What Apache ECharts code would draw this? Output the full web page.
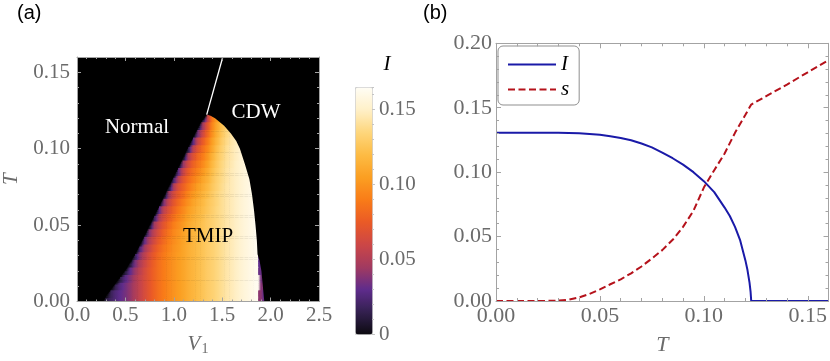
<!DOCTYPE html>
<html><head><meta charset="utf-8">
<script src="https://cdn.jsdelivr.net/npm/echarts@6/dist/echarts.min.js"></script>
<style>html,body{margin:0;padding:0;background:#fff}#c{width:830px;height:361px}</style>
</head><body><div id="c"></div>
<script>
// ================= DATA =================
// Panel (a): order parameter I on a (V1, T) grid.  Row centres in T,
// first V1 column of each row, then I values every 0.05 in V1.
const heatRowT = [0,0.005,0.01,0.015,0.02,0.025,0.03,0.035,0.04,0.045,0.05,0.055,0.06,0.065,0.07,0.075,0.08,0.085,0.09,0.095,0.10,0.105,0.11,0.115,0.12];
const heatRowV0 = [0.25,0.30,0.35,0.40,0.45,0.50,0.55,0.60,0.65,0.70,0.75,0.75,0.80,0.85,0.90,0.95,0.95,1.00,1.05,1.10,1.10,1.15,1.20,1.25,1.30];
const heatRowI = [
 [0.006,0.012,0.019,0.025,0.030,0.035,0.041,0.049,0.057,0.065,0.072,0.079,0.085,0.090,0.095,0.100,0.104,0.108,0.113,0.117,0.121,0.125,0.129,0.132,0.136,0.140,0.144,0.147,0.150,0.154,0.157,0.160,0.163,0.040,0.025],
 [0.006,0.017,0.025,0.030,0.035,0.041,0.049,0.057,0.065,0.072,0.079,0.085,0.090,0.095,0.100,0.104,0.108,0.113,0.117,0.121,0.125,0.129,0.132,0.136,0.140,0.144,0.147,0.150,0.154,0.157,0.160,0.163,0.040,0.022],
 [0.005,0.017,0.027,0.034,0.041,0.049,0.057,0.065,0.072,0.079,0.085,0.090,0.095,0.100,0.104,0.108,0.113,0.117,0.121,0.125,0.129,0.132,0.136,0.140,0.144,0.147,0.150,0.154,0.157,0.160,0.163,0.038],
 [0.005,0.015,0.028,0.038,0.048,0.057,0.065,0.072,0.079,0.085,0.090,0.095,0.100,0.104,0.108,0.113,0.117,0.121,0.125,0.129,0.132,0.136,0.140,0.144,0.147,0.150,0.154,0.157,0.160,0.163,0.035],
 [0.005,0.012,0.030,0.043,0.054,0.064,0.072,0.079,0.085,0.090,0.095,0.100,0.104,0.108,0.113,0.117,0.121,0.125,0.129,0.132,0.136,0.140,0.144,0.147,0.150,0.154,0.157,0.160,0.163,0.032],
 [0.005,0.010,0.035,0.049,0.060,0.070,0.078,0.085,0.090,0.095,0.100,0.104,0.108,0.113,0.117,0.121,0.125,0.129,0.132,0.136,0.140,0.144,0.147,0.150,0.154,0.157,0.160,0.163,0.030],
 [0.005,0.017,0.040,0.054,0.066,0.075,0.083,0.089,0.095,0.100,0.104,0.108,0.113,0.117,0.121,0.125,0.129,0.132,0.136,0.140,0.144,0.147,0.150,0.154,0.157,0.160,0.163,0.028],
 [0.005,0.025,0.046,0.059,0.071,0.080,0.087,0.093,0.099,0.103,0.108,0.113,0.117,0.121,0.125,0.129,0.132,0.136,0.140,0.144,0.147,0.150,0.154,0.157,0.160,0.163],
 [0.005,0.032,0.051,0.064,0.075,0.083,0.091,0.097,0.102,0.107,0.112,0.117,0.121,0.125,0.129,0.132,0.136,0.140,0.144,0.147,0.150,0.154,0.157,0.160,0.163],
 [0.005,0.039,0.056,0.068,0.079,0.087,0.095,0.100,0.106,0.111,0.116,0.120,0.125,0.129,0.132,0.136,0.140,0.144,0.147,0.150,0.154,0.157,0.160,0.163],
 [0.006,0.045,0.061,0.072,0.082,0.091,0.097,0.103,0.110,0.115,0.119,0.124,0.128,0.132,0.136,0.140,0.144,0.147,0.150,0.154,0.157,0.160,0.163],
 [0.004,0.019,0.050,0.065,0.076,0.085,0.093,0.100,0.107,0.113,0.118,0.123,0.128,0.132,0.136,0.140,0.144,0.147,0.150,0.154,0.157,0.160,0.163],
 [0.004,0.031,0.056,0.068,0.079,0.088,0.096,0.104,0.110,0.116,0.121,0.126,0.131,0.136,0.140,0.144,0.147,0.150,0.154,0.157,0.160,0.163],
 [0.004,0.038,0.059,0.072,0.082,0.091,0.099,0.107,0.113,0.119,0.125,0.130,0.135,0.140,0.144,0.147,0.150,0.154,0.157,0.160,0.163],
 [0.005,0.045,0.064,0.075,0.084,0.094,0.102,0.109,0.116,0.122,0.129,0.135,0.140,0.144,0.147,0.150,0.154,0.157,0.160],
 [0.010,0.050,0.068,0.078,0.088,0.097,0.105,0.112,0.119,0.127,0.133,0.139,0.144,0.147,0.150,0.154,0.157,0.160],
 [0.004,0.024,0.054,0.071,0.082,0.091,0.099,0.108,0.115,0.125,0.132,0.138,0.143,0.147,0.150,0.154,0.157,0.160],
 [0.004,0.032,0.059,0.075,0.085,0.093,0.102,0.111,0.122,0.130,0.137,0.143,0.147,0.150,0.154,0.157],
 [0.005,0.043,0.064,0.078,0.087,0.096,0.106,0.119,0.128,0.136,0.142,0.146,0.150,0.154,0.157],
 [0.006,0.049,0.068,0.081,0.090,0.101,0.115,0.126,0.134,0.141,0.145,0.149,0.154,0.157],
 [0.004,0.014,0.054,0.071,0.084,0.095,0.110,0.123,0.132,0.140,0.145,0.149,0.154],
 [0.004,0.028,0.059,0.075,0.089,0.106,0.119,0.130,0.138,0.144,0.148],
 [0.004,0.036,0.062,0.081,0.100,0.115,0.127,0.136,0.143],
 [0.006,0.045,0.072,0.095,0.111,0.124,0.134],
 [0.012,0.057,0.090,0.106,0.120]
];
// Phase boundaries (V1, T)
const leftEdgeV = [0.27,0.307,0.409,0.511,0.612,0.697,0.782,0.850,0.917,0.985,1.053,1.120,1.171,1.222,1.273,1.34];
const leftEdgeT = [0,0.0041,0.0128,0.0214,0.0323,0.0431,0.0539,0.0625,0.0712,0.0799,0.0885,0.0972,0.1037,0.1102,0.1167,0.1223];
const rightEdgeV = [1.935,1.92,1.905,1.885,1.865,1.858,1.844,1.828,1.808,1.781,1.734,1.683,1.645,1.59,1.52,1.426,1.38,1.34];
const rightEdgeT = [0,0.01,0.02,0.027,0.031,0.04,0.05,0.06,0.07,0.08,0.09,0.10,0.105,0.11,0.115,0.1199,0.1215,0.1223];
const transitionV = [1.34, 1.506];
const transitionT = [0.1223, 0.16];

// Panel (b): I(T) and s(T)
const orderT = [0,0.01,0.02,0.03,0.04,0.05,0.055,0.06,0.065,0.07,0.075,0.08,0.085,0.09,0.095,0.10,0.105,0.11,0.1125,0.115,0.1175,0.12,0.121,0.122,0.1225,0.1228,0.13,0.14,0.15,0.16];
const orderI = [0.1305,0.1305,0.1305,0.1305,0.1302,0.129,0.1278,0.1265,0.1248,0.1222,0.1192,0.1152,0.1108,0.1058,0.1,0.093,0.0845,0.0725,0.066,0.0575,0.047,0.0315,0.024,0.014,0.007,0,0,0,0,0];
const entropyT = [0,0.01,0.02,0.025,0.03,0.035,0.04,0.045,0.05,0.055,0.06,0.065,0.07,0.075,0.08,0.085,0.09,0.095,0.10,0.105,0.11,0.115,0.12,0.1228,0.13,0.14,0.15,0.16];
const entropyS = [0,0,0,0.0001,0.0003,0.001,0.0028,0.0055,0.009,0.013,0.0168,0.0215,0.0268,0.033,0.0395,0.0475,0.0575,0.070,0.088,0.1015,0.1145,0.1305,0.1445,0.1525,0.159,0.168,0.1775,0.187];

const colorbarTicks = [0, 0.05, 0.10, 0.15];
const seriesNames = ['I', 's'];

// ================= STYLE / LAYOUT =================
const SERIF = "'Liberation Serif','DejaVu Serif',serif";
const FRAME = '#a3a3a3';
const LABEL = '#6b6b6b';
const CMAP = ['#0c0a10','#33204f','#5f2c8c','#a23a60','#cc4646','#ea5a26','#f97c18','#fb9f22','#fdbb44','#fed67c','#fff0c8','#fffdf5'];
const I_MAX = 0.165;
const V_MIN = 0, V_MAX = 2.5, T_MIN = 0, T_MAX = 0.16;
const CELL_DV = 0.05, CELL_DT = 0.005, SUB = 4;

function hexRgb(h) { return [parseInt(h.slice(1,3),16), parseInt(h.slice(3,5),16), parseInt(h.slice(5,7),16)]; }
const CMAP_RGB = CMAP.map(hexRgb);
function cmap(v) {
  const n = CMAP_RGB.length - 1;
  const x = Math.max(0, Math.min(1, v / I_MAX)) * n;
  const i = Math.min(n - 1, Math.floor(x)), f = x - i;
  const a = CMAP_RGB[i], b = CMAP_RGB[i + 1];
  return 'rgb(' + a.map((c, m) => Math.round(c + (b[m] - c) * f)).join(',') + ')';
}
// position of the Normal/TMIP boundary at a given T (along the drawn boundary polyline)
function leftEdgeAt(T) {
  if (T <= leftEdgeT[0]) return leftEdgeV[0];
  for (let i = 1; i < leftEdgeT.length; i++) {
    if (T <= leftEdgeT[i]) return leftEdgeV[i - 1] + (leftEdgeV[i] - leftEdgeV[i - 1]) * (T - leftEdgeT[i - 1]) / (leftEdgeT[i] - leftEdgeT[i - 1]);
  }
  return leftEdgeV[leftEdgeV.length - 1];
}
// shading knots of a row: value 0 on the boundary, then the cell values
const knotCache = {};
function rowKnots(j, s) {
  const key = j * SUB + s;
  if (knotCache[key]) return knotCache[key];
  const Ts = heatRowT[j] - CELL_DT / 2 + (s + 0.5) * CELL_DT / SUB;
  const L = leftEdgeAt(Ts);
  const row = heatRowI[j], v0 = heatRowV0[j];
  const knots = [[L, 0]];
  let last = 0;
  row.forEach((val, m) => {
    const c = v0 + m * CELL_DV;
    if (c <= L + 0.002) return;
    if (knots.length > 1 && Math.abs(val - last) > 0.06) {
      const mid = c - CELL_DV / 2;
      knots.push([mid, last], [mid, val]);
    }
    knots.push([c, val]); last = val;
  });
  return (knotCache[key] = knots);
}
function evalKnots(knots, x) {
  if (x <= knots[0][0]) return knots[0][1];
  for (let i = 1; i < knots.length; i++) {
    if (x <= knots[i][0]) {
      const a = knots[i - 1], b = knots[i], d = b[0] - a[0];
      return d <= 0 ? b[1] : a[1] + (b[1] - a[1]) * (x - a[0]) / d;
    }
  }
  return knots[knots.length - 1][1];
}

const cellData = [];
heatRowI.forEach((row, j) => row.forEach((val, k) => {
  cellData.push([+(heatRowV0[j] + k * CELL_DV).toFixed(3), heatRowT[j], val, j, k]);
}));
const normalPolyV = [V_MIN].concat(leftEdgeV, [transitionV[1], V_MIN]);
const normalPolyT = [T_MIN].concat(leftEdgeT, [transitionT[1], T_MAX]);
const cdwPolyV = [V_MAX].concat(rightEdgeV, [transitionV[1], V_MAX]);
const cdwPolyT = [T_MIN].concat(rightEdgeT, [transitionT[1], T_MAX]);
const regions = [[normalPolyV, normalPolyT], [cdwPolyV, cdwPolyT]];

function axisSet(kind, gi, min, max, major, minor, fmt, fs, margin, majLen, minLen, extra) {
  const sA = kind === 'x' ? 'bottom' : 'left', sB = kind === 'x' ? 'top' : 'right';
  const base = {type: 'value', gridIndex: gi, min: min, max: max, z: 6, splitLine: {show: false}, silent: true};
  const tick = (len) => ({show: true, inside: true, length: len, lineStyle: {color: FRAME, width: 1}});
  const line = {show: true, onZero: false, lineStyle: {color: FRAME, width: 1}};
  const noLine = {show: false, onZero: false};
  return [
    Object.assign({}, base, {position: sA, interval: major, axisLine: line, axisTick: tick(majLen),
      axisLabel: {show: true, formatter: fmt, color: LABEL, fontFamily: SERIF, fontSize: fs, margin: margin,
        showMaxLabel: Math.abs(max / major - Math.round(max / major)) < 1e-9}}, extra || {}),
    Object.assign({}, base, {position: sA, interval: minor, axisLine: noLine, axisTick: tick(minLen), axisLabel: {show: false}}),
    Object.assign({}, base, {position: sB, interval: major, axisLine: line, axisTick: tick(majLen), axisLabel: {show: false}}),
    Object.assign({}, base, {position: sB, interval: minor, axisLine: noLine, axisTick: tick(minLen), axisLabel: {show: false}})
  ];
}

const xAxes = [].concat(
  axisSet('x', 0, V_MIN, V_MAX, 0.5, 0.1, v => v.toFixed(1), 21, 3, 4, 2, {
    name: '{i|V}{s|1}', nameLocation: 'middle', nameGap: 31,
    nameTextStyle: {rich: {i: {fontFamily: SERIF, fontStyle: 'italic', fontSize: 21, color: LABEL, lineHeight: 24},
                           s: {fontFamily: SERIF, fontSize: 14, color: LABEL, lineHeight: 24, padding: [9, 0, 0, 1]}}}}),
  axisSet('x', 1, 0, 0.16, 0.05, 0.01, v => v.toFixed(2), 22, 4, 5, 3, {
    name: 'T', nameLocation: 'middle', nameGap: 33,
    nameTextStyle: {fontFamily: SERIF, fontStyle: 'italic', fontSize: 22, color: LABEL}}),
  [{type: 'value', gridIndex: 2, show: false, min: 0, max: 1}]
);
const yAxes = [].concat(
  axisSet('y', 0, T_MIN, T_MAX, 0.05, 0.01, v => v.toFixed(2), 21, 7, 4, 2, {
    name: 'T', nameLocation: 'middle', nameGap: 55, nameRotate: 90,
    nameTextStyle: {fontFamily: SERIF, fontStyle: 'italic', fontSize: 21, color: LABEL}}),
  axisSet('y', 1, 0, 0.2, 0.05, 0.01, v => v.toFixed(2), 22, 4, 5, 3),
  [
    {type: 'value', gridIndex: 2, position: 'right', min: 0, max: I_MAX, interval: 0.05, z: 6, silent: true,
     splitLine: {show: false}, axisLine: {show: false, onZero: false},
     axisTick: {show: true, inside: false, length: 3, lineStyle: {color: '#c4c4c4'}},
     axisLabel: {show: true, margin: 7, color: LABEL, fontFamily: SERIF, fontSize: 21, showMaxLabel: false,
       formatter: v => { const t = colorbarTicks.find(c => Math.abs(c - v) < 1e-9); return t === undefined ? '' : (t === 0 ? '0' : t.toFixed(2)); }}},
    {type: 'value', gridIndex: 2, position: 'right', min: 0, max: I_MAX, interval: 0.01, z: 6, silent: true,
     splitLine: {show: false}, axisLine: {show: false, onZero: false},
     axisTick: {show: true, inside: false, length: 2, lineStyle: {color: '#c4c4c4'}}, axisLabel: {show: false}}
  ]
);

const option = {
  animation: false,
  backgroundColor: '#fff',
  grid: [
    {left: 73, top: 57, width: 246, height: 246, show: true, backgroundColor: '#000', borderWidth: 0},
    {left: 496, top: 43.3, width: 333, height: 266.7, show: false},
    {left: 355, top: 87, width: 17, height: 247, show: false}
  ],
  xAxis: xAxes,
  yAxis: yAxes,
  visualMap: {
    type: 'continuous', min: 0, max: I_MAX, dimension: 2, seriesIndex: 0,
    inRange: {color: CMAP}, calculable: false, hoverLink: false,
    left: 355, top: 87, itemWidth: 17, itemHeight: 247, padding: 0,
    borderColor: '#d0d0d0', borderWidth: 1, text: null, showLabel: false
  },
  legend: {
    data: seriesNames, orient: 'vertical', left: 498, top: 46, selectedMode: false,
    padding: [8, 10, 5, 9], itemGap: 4, itemWidth: 48, itemHeight: 20,
    borderColor: '#8f8f8f', borderWidth: 1, borderRadius: 5, backgroundColor: '#fff',
    itemStyle: {opacity: 0, borderWidth: 0},
    textStyle: {fontFamily: SERIF, fontStyle: 'italic', fontSize: 21, color: '#000'}
  },
  graphic: [
    {type: 'text', left: 17, top: 3, style: {text: '(a)', font: "20px 'Liberation Sans', Arial, sans-serif", fill: '#000'}},
    {type: 'text', left: 423, top: 3, style: {text: '(b)', font: "20px 'Liberation Sans', Arial, sans-serif", fill: '#000'}},
    {type: 'text', x: 387, y: 64, z: 20, style: {text: 'I', font: "italic 21px 'Liberation Serif', serif", fill: '#000', align: 'center', verticalAlign: 'middle'}},
    {type: 'text', x: 137, y: 127, z: 20, style: {text: 'Normal', font: "21px 'Liberation Serif', serif", fill: '#fff', align: 'center', verticalAlign: 'middle'}},
    {type: 'text', x: 256, y: 112, z: 20, style: {text: 'CDW', font: "21px 'Liberation Serif', serif", fill: '#fff', align: 'center', verticalAlign: 'middle'}},
    {type: 'text', x: 208, y: 236, z: 20, style: {text: 'TMIP', font: "21px 'Liberation Serif', serif", fill: '#000', align: 'center', verticalAlign: 'middle'}}
  ],
  series: [
    {
      name: 'I map', type: 'custom', xAxisIndex: 0, yAxisIndex: 0, clip: true, z: 2, silent: true,
      data: cellData, encode: {x: 0, y: 1},
      renderItem: function (params, api) {
        const v = api.value(0), t = api.value(1), j = api.value(3);
        const x0 = v - CELL_DV / 2, x1 = v + CELL_DV / 2;
        const children = [];
        for (let s = 0; s < SUB; s++) {
          const knots = rowKnots(j, s);
          const tBot = t - CELL_DT / 2 + s * CELL_DT / SUB, tTop = tBot + CELL_DT / SUB;
          const p0 = api.coord([x0, tTop]), p1 = api.coord([x1, tBot]);
          const stops = [{offset: 0, color: cmap(evalKnots(knots, x0))}];
          knots.forEach(kn => { if (kn[0] > x0 && kn[0] < x1) stops.push({offset: (kn[0] - x0) / (x1 - x0), color: cmap(kn[1])}); });
          stops.push({offset: 1, color: cmap(evalKnots(knots, x1))});
          children.push({type: 'rect', shape: {x: p0[0] - 0.3, y: p0[1] - 0.3, width: p1[0] - p0[0] + 0.6, height: p1[1] - p0[1] + 0.6},
                         style: {fill: new echarts.graphic.LinearGradient(0, 0, 1, 0, stops)}});
        }
        return {type: 'group', children: children};
      }
    },
    {
      name: 'phases', type: 'custom', xAxisIndex: 0, yAxisIndex: 0, clip: true, z: 3, silent: true,
      data: [[0, 0], [1, 0]], encode: {x: 0, y: 1},
      renderItem: function (params, api) {
        const r = regions[params.dataIndex];
        return {type: 'polygon', shape: {points: r[0].map((v, i) => api.coord([v, r[1][i]]))}, style: {fill: '#000'}};
      }
    },
    {
      name: 'transition', type: 'line', xAxisIndex: 0, yAxisIndex: 0, z: 4, silent: true, symbol: 'none',
      data: transitionV.map((v, i) => [v, transitionT[i]]), lineStyle: {color: '#fff', width: 1.3}
    },
    {
      name: seriesNames[0], type: 'line', xAxisIndex: 4, yAxisIndex: 4, symbol: 'none', z: 5,
      data: orderT.map((t, i) => [t, orderI[i]]),
      lineStyle: {color: '#1a1aa8', width: 2}, itemStyle: {color: '#1a1aa8'}
    },
    {
      name: seriesNames[1], type: 'line', xAxisIndex: 4, yAxisIndex: 4, symbol: 'none', z: 5,
      data: entropyT.map((t, i) => [t, entropyS[i]]),
      lineStyle: {color: '#b5121b', width: 2, type: [7, 3.5]}, itemStyle: {color: '#b5121b'}
    }
  ]
};
const chart = echarts.init(document.getElementById('c'));
chart.setOption(option);
</script></body></html>
